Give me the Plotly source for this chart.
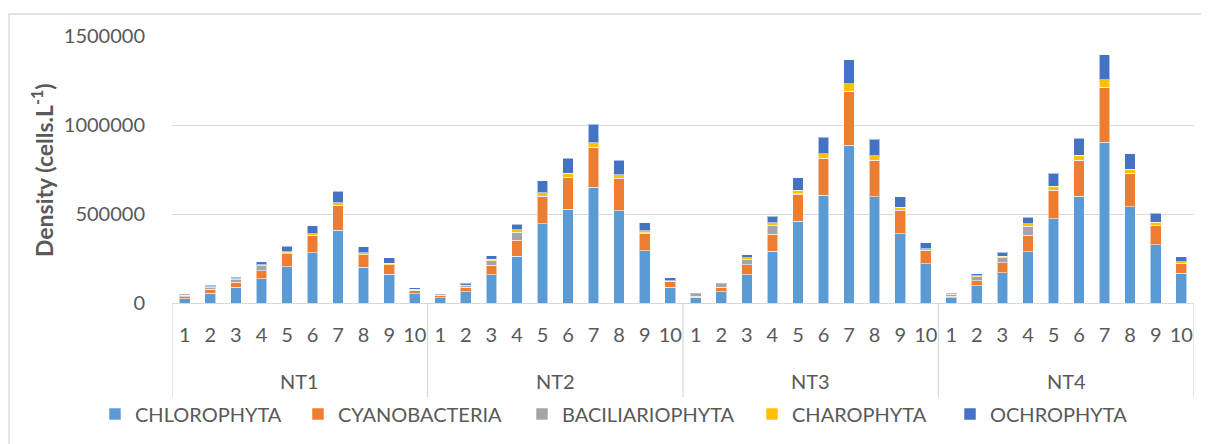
import plotly.graph_objects as go

groups = ["NT1", "NT2", "NT3", "NT4"]
samples = ["1", "2", "3", "4", "5", "6", "7", "8", "9", "10"]

chlorophyta = [
    24000, 56000, 88000, 137000, 204000, 281000, 409000, 201000, 161000, 52000,
    30000, 64000, 159000, 264000, 446000, 527000, 651000, 519000, 293000, 88000,
    32000, 64000, 159000, 291000, 459000, 606000, 887000, 596000, 388000, 221000,
    30000, 97000, 169000, 287000, 474000, 600000, 904000, 542000, 326000, 167000,
]
cyanobacteria = [
    11000, 21000, 28000, 45000, 73000, 96000, 137000, 69000, 53000, 17000,
    13000, 24000, 53000, 88000, 152000, 178000, 223000, 179000, 99000, 32000,
    7000, 24000, 57000, 95000, 152000, 206000, 302000, 205000, 131000, 73000,
    9000, 29000, 58000, 95000, 158000, 201000, 307000, 186000, 109000, 54000,
]
baciliariophyta = [
    6000, 9000, 15000, 28000, 4000, 3000, 2000, 2000, 2000, 3000,
    2000, 9000, 26000, 45000, 2000, 2000, 2000, 2000, 2000, 2000,
    12000, 19000, 28000, 51000, 2000, 2000, 2000, 2000, 2000, 3000,
    10000, 22000, 28000, 49000, 2000, 2000, 2000, 2000, 2000, 2000,
]
charophyta = [
    2000, 4000, 6000, 6000, 6000, 10000, 15000, 9000, 7000, 5000,
    2000, 4000, 9000, 15000, 19000, 22000, 24000, 21000, 11000, 4000,
    2000, 2000, 9000, 13000, 21000, 24000, 41000, 24000, 17000, 7000,
    2000, 6000, 9000, 15000, 23000, 28000, 40000, 22000, 17000, 8000,
]
ochrophyta = [
    5000, 9000, 9000, 15000, 32000, 45000, 64000, 34000, 30000, 9000,
    5000, 11000, 19000, 30000, 67000, 83000, 103000, 82000, 47000, 15000,
    3000, 3000, 17000, 36000, 71000, 94000, 135000, 94000, 60000, 35000,
    5000, 9000, 21000, 36000, 72000, 95000, 142000, 86000, 50000, 28000,
]

series_names = ["CHLOROPHYTA", "CYANOBACTERIA", "BACILIARIOPHYTA", "CHAROPHYTA", "OCHROPHYTA"]
series_values = [chlorophyta, cyanobacteria, baciliariophyta, charophyta, ochrophyta]
series_colors = ["#5B9BD5", "#ED7D31", "#A5A5A5", "#FFC000", "#4472C4"]

x_keys = [f"{g}-{s}" for g in groups for s in samples]
tick_text = [s for g in groups for s in samples]

FONT = "Lato, 'Open Sans', sans-serif"
TXT = "#595959"
GRID = "#D9D9D9"

# page has an 8px body margin: work in figure pixels
OFF = 8
FW, FH = 1209 - OFF, 444 - OFF

# legend entry text start positions (screen px) for each series
legend_text_x = [134, 337, 561, 791, 989]
legend_ids = ["legend"] + [f"legend{i}" for i in range(2, len(series_names) + 1)]

fig = go.Figure()
for name, vals, col, lid in zip(series_names, series_values, series_colors, legend_ids):
    fig.add_trace(go.Bar(
        x=x_keys, y=vals, name=name, legend=lid, showlegend=True,
        marker=dict(color=col, line=dict(color="rgba(255,255,255,0.55)", width=1)),
    ))

# plot area geometry (screen px)
L, R, T, B = 172, 1194, 36, 303
W, H = R - L, B - T

def px_y(py):
    return (B - py) / H

def px_x(px):
    return (px - L) / W

shapes = []
n = len(samples)
for i in range(len(groups) + 1):
    shapes.append(dict(type="line", xref="x", yref="paper",
                       x0=-0.5 + n * i, x1=-0.5 + n * i,
                       y0=0, y1=px_y(397), line=dict(color=GRID, width=1.3)))
# outer chart border
shapes.append(dict(type="rect", xref="paper", yref="paper",
                   x0=px_x(9), x1=px_x(1225), y0=px_y(470), y1=px_y(14),
                   line=dict(color=GRID, width=1.3), layer="below"))

annotations = []
for i, g in enumerate(groups):
    annotations.append(dict(x=(n - 1) / 2 + n * i, xref="x", y=px_y(381), yref="paper",
                            text=g, showarrow=False, yanchor="middle",
                            font=dict(family=FONT, size=20, color=TXT)))
annotations.append(dict(x=px_x(42), xref="paper", y=px_y(170), yref="paper",
                        text="<b>Density (cells.L<sup>-1</sup>)</b>", textangle=-90,
                        showarrow=False, xanchor="center", yanchor="middle",
                        font=dict(family=FONT, size=23, color=TXT)))

legends = {}
for lid, tx in zip(legend_ids, legend_text_x):
    legends[lid] = dict(orientation="h", xref="container", yref="container",
                        x=(tx - OFF - 39) / FW, xanchor="left",
                        y=1 - (414 - OFF) / FH, yanchor="middle",
                        font=dict(family=FONT, size=20, color=TXT),
                        itemwidth=30, bgcolor="rgba(0,0,0,0)")

fig.update_layout(
    width=FW, height=FH,
    showlegend=True,
    margin=dict(l=L - OFF, r=FW - (R - OFF), t=T - OFF, b=FH - (B - OFF)),
    paper_bgcolor="white", plot_bgcolor="white",
    barmode="stack", bargap=0.58,
    font=dict(family=FONT, size=20, color=TXT),
    shapes=shapes, annotations=annotations,
    xaxis=dict(type="category", tickmode="array", tickvals=x_keys, ticktext=tick_text,
               range=[-0.5, len(x_keys) - 0.5], showgrid=False,
               showline=True, linecolor=GRID, linewidth=1.3,
               ticks="outside", ticklen=14, tickcolor="rgba(0,0,0,0)",
               tickfont=dict(family=FONT, size=20, color=TXT), tickangle=0),
    yaxis=dict(range=[0, 1500000], tickvals=[0, 500000, 1000000, 1500000],
               ticktext=["0", "500000", "1000000", "1500000"],
               showgrid=True, gridcolor=GRID, gridwidth=1.3, zeroline=False,
               ticks="outside", ticklen=22, tickcolor="rgba(0,0,0,0)",
               tickfont=dict(family=FONT, size=20, color=TXT)),
    **legends,
)

fig.write_html("out.html")
